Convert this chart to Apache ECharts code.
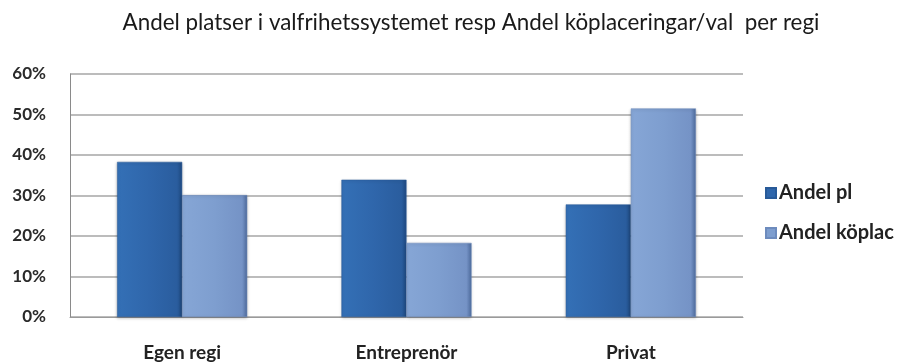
<!DOCTYPE html>
<html>
<head>
<meta charset="utf-8">
<script src="https://cdn.jsdelivr.net/npm/echarts@6/dist/echarts.min.js"></script>
<style>
  html, body { margin: 0; padding: 0; background: #ffffff; }
  #chart { width: 897px; height: 363px; }
</style>
</head>
<body>
<div id="chart"></div>
<script>
// Share of places in the choice system vs share of queue placements/choices, per operator type
const categories = ['Egen regi', 'Entreprenör', 'Privat'];
const andelPl = [38.3, 33.9, 27.8];
const andelKoplac = [30.1, 18.3, 51.5];
const yTicks = [0, 10, 20, 30, 40, 50, 60];

const titleText = 'Andel platser i valfrihetssystemet resp Andel köplaceringar/val  per regi';
const font = 'Lato';

const darkFill = new echarts.graphic.LinearGradient(0, 0, 1, 0, [
  { offset: 0, color: '#3470b6' },
  { offset: 0.5, color: '#2f66ab' },
  { offset: 0.92, color: '#2a5d9e' },
  { offset: 1, color: '#1f4a82' }
]);
const lightFill = new echarts.graphic.LinearGradient(0, 0, 1, 0, [
  { offset: 0, color: '#86a6d6' },
  { offset: 0.5, color: '#7e9ecf' },
  { offset: 0.92, color: '#7593c6' },
  { offset: 1, color: '#4f6c9e' }
]);

const chart = echarts.init(document.getElementById('chart'));
chart.setOption({
  backgroundColor: '#ffffff',
  animation: false,
  title: {
    text: titleText,
    left: 466,
    top: 7,
    textAlign: 'center',
    textStyle: { fontFamily: font, fontSize: 22.4, fontWeight: 'normal', color: '#1a1a1a' }
  },
  legend: {
    orient: 'vertical',
    left: 760,
    top: 178,
    itemWidth: 10,
    itemHeight: 10,
    itemGap: 20,
    icon: 'rect',
    textStyle: { fontFamily: font, fontSize: 20, fontWeight: 'bold', color: '#222', padding: [0, 0, 0, -2] },
    data: [
      { name: 'Andel pl', itemStyle: { color: '#2f66ab' } },
      { name: 'Andel köplac', itemStyle: { color: '#7e9ecf' } }
    ]
  },
  grid: { left: 70, right: 154, top: 74, bottom: 46 },
  xAxis: {
    type: 'category',
    data: categories,
    axisLine: { show: true, lineStyle: { color: '#9a9a9a', width: 1 } },
    axisTick: { show: false },
    axisLabel: { margin: 26, fontFamily: font, fontSize: 19, fontWeight: 'bold', color: '#222' }
  },
  yAxis: {
    type: 'value',
    min: 0,
    max: 60,
    interval: 10,
    axisLine: { show: true, lineStyle: { color: '#8a8a8a', width: 1 } },
    axisTick: { show: false },
    splitLine: { lineStyle: { color: '#a6a6a6', width: 1.5 } },
    axisLabel: {
      margin: 24,
      fontFamily: font,
      fontSize: 17,
      fontWeight: 'bold',
      color: '#2a2a2a',
      formatter: v => (yTicks.includes(v) ? v + '%' : '')
    }
  },
  series: [
    {
      name: 'Andel pl',
      type: 'bar',
      data: andelPl,
      barGap: '0%',
      barCategoryGap: '42%',
      itemStyle: { color: darkFill, borderColor: '#285a98', borderWidth: 0.5,
        shadowColor: 'rgba(0,0,0,0.25)', shadowBlur: 3, shadowOffsetY: 1 }
    },
    {
      name: 'Andel köplac',
      type: 'bar',
      data: andelKoplac,
      barGap: '0%',
      barCategoryGap: '42%',
      itemStyle: { color: lightFill, borderColor: '#6d8bbd', borderWidth: 0.5,
        shadowColor: 'rgba(0,0,0,0.25)', shadowBlur: 3, shadowOffsetY: 1 }
    }
  ]
});
</script>
</body>
</html>
